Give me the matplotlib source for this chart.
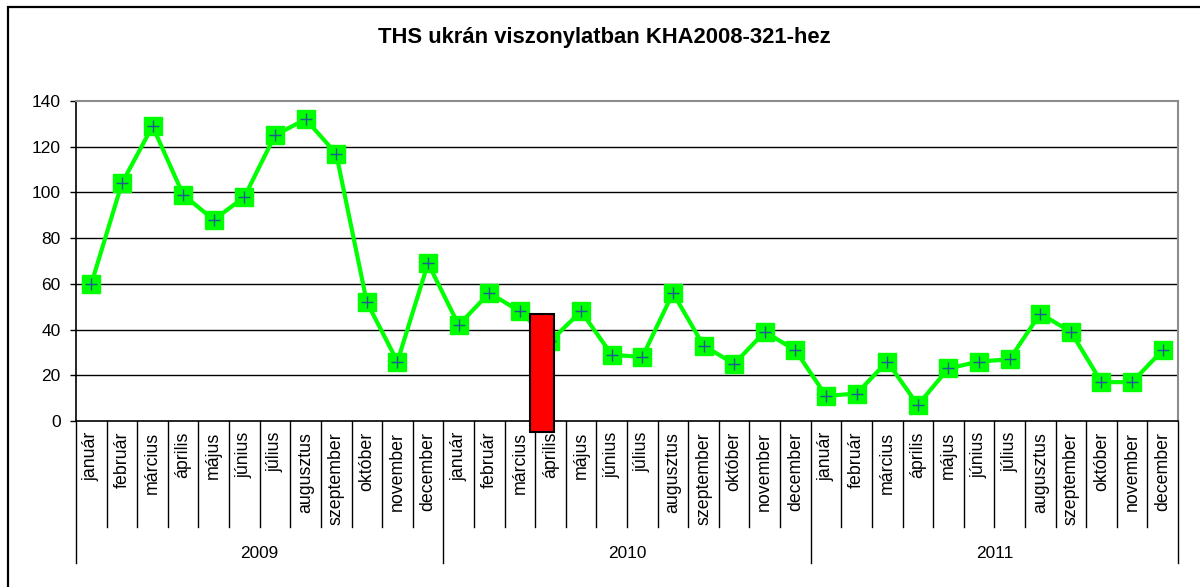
import matplotlib
matplotlib.use("Agg")
import matplotlib.pyplot as plt
from matplotlib.patches import Rectangle
import numpy as np

plt.rcParams['font.family'] = ['Liberation Sans', 'DejaVu Sans']

title = "THS ukrán viszonylatban KHA2008-321-hez"
months = ["január", "február", "március", "április", "május", "június",
          "július", "augusztus", "szeptember", "október", "november", "december"]
years = ["2009", "2010", "2011"]
values_2009 = [60, 104, 129, 99, 88, 98, 125, 132, 117, 52, 26, 69]
values_2010 = [42, 56, 48, 35, 48, 29, 28, 56, 33, 25, 39, 31]
values_2011 = [11, 12, 26, 7, 23, 26, 27, 47, 39, 17, 17, 31]
yticks = [0, 20, 40, 60, 80, 100, 120, 140]

# highlighted bar (red box drawn over 2010 április)
highlight_x = 14.72
highlight_low = -5
highlight_high = 47

values = values_2009 + values_2010 + values_2011
labels = months * len(years)
n = len(values)
x = np.arange(n)

W, H = 1200, 587
fig = plt.figure(figsize=(W / 100, H / 100), dpi=100)
fig.patch.set_facecolor("white")

ax_l, ax_r, ax_t, ax_b = 76, 1178, 101, 421
ax = fig.add_axes([ax_l / W, 1 - ax_b / H, (ax_r - ax_l) / W, (ax_b - ax_t) / H])
ax_h = ax_b - ax_t

ax.set_xlim(-0.5, n - 0.5)
ax.set_ylim(0, 140)

# gridlines
for v in yticks[1:-1]:
    ax.axhline(v, color="black", lw=1.0, zorder=1)

for side in ["top", "right"]:
    ax.spines[side].set_color("#8c8c8c")
    ax.spines[side].set_linewidth(1.5)
for side in ["left", "bottom"]:
    ax.spines[side].set_color("black")
    ax.spines[side].set_linewidth(1.2)

ax.set_yticks(yticks)
ax.set_yticklabels([str(v) for v in yticks], fontsize=12.5)
ax.tick_params(axis="y", direction="out", length=4, width=1, pad=7, colors="black")
ax.set_xticks([])

# line + markers
green = "#00FF00"
ax.plot(x, values, color=green, lw=3.0, marker="s", markersize=12.5,
        markerfacecolor=green, markeredgecolor=green, zorder=3, clip_on=False)
ax.plot(x, values, linestyle="none", marker="+", markersize=9, markeredgewidth=1.0,
        color="#1d5a96", zorder=4, clip_on=False)

# highlight bar
ax.bar([highlight_x], [highlight_high - highlight_low], bottom=highlight_low, width=0.79,
       color="#FF0000", edgecolor="black", linewidth=1.5, zorder=5, clip_on=False)

# category axis (two levels)
trans = ax.get_xaxis_transform()
month_sep = -(527 - ax_b) / ax_h
year_sep = -(563 - ax_b) / ax_h
for i in range(n + 1):
    bx = i - 0.5
    is_year = (i % 12 == 0)
    ax.plot([bx, bx], [0, year_sep if is_year else month_sep], transform=trans,
            color="black", lw=1.0, clip_on=False, zorder=2)
for i, lab in enumerate(labels):
    ax.text(i, -(11 / ax_h), lab, transform=trans, rotation=90, ha="center", va="top",
            fontsize=12.8, color="black")
for j, yr in enumerate(years):
    ax.text(j * 12 + 5.5, -(132 / ax_h), yr, transform=trans, ha="center", va="center",
            fontsize=12.4, color="black")

# title
fig.text(604 / W, 1 - 38 / H, title, ha="center", va="center", fontsize=15.8,
         fontweight="bold", color="black")

# chart border (right and bottom edges fall outside the image)
fig.add_artist(Rectangle((8 / W, -0.2), 1.2, 1 - 7 / H + 0.2, transform=fig.transFigure,
                         fill=False, edgecolor="black", lw=1.6))

fig.savefig("out.png", dpi=100, facecolor="white")
